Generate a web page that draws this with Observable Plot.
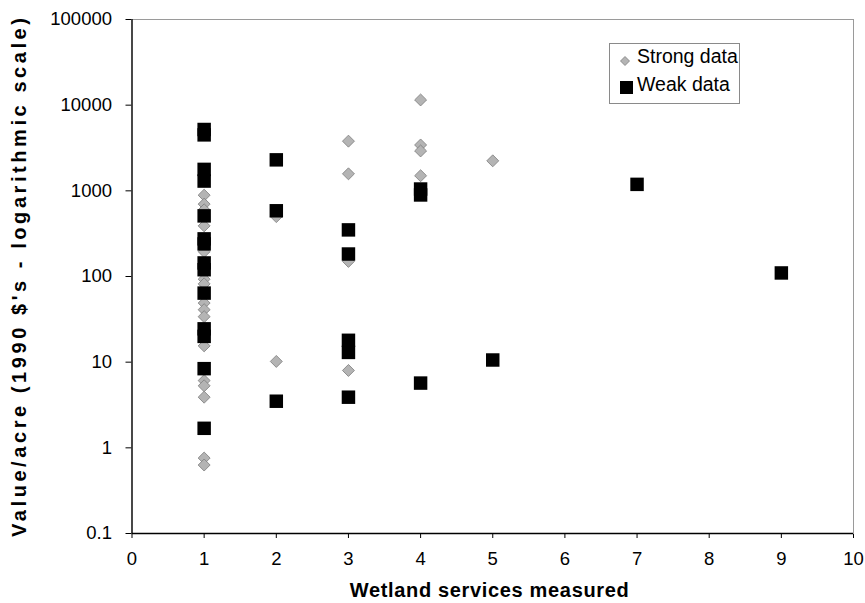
<!DOCTYPE html>
<html>
<head>
<meta charset="utf-8">
<script src="https://cdn.jsdelivr.net/npm/d3@7"></script>
<script src="https://cdn.jsdelivr.net/npm/@observablehq/plot@0.6"></script>
<style>
  body { margin: 0; background: #fff; }
  #wrap { position: relative; width: 865px; height: 603px; font-family: "Liberation Sans", Arial, sans-serif; }
  #legend { position: absolute; left: 609px; top: 43px; width: 129px; height: 59px; border: 1px solid #8a8a8a; background: #fff; font-size: 19.5px; }
  #legend svg { position: absolute; }
  #legend span { position: absolute; white-space: nowrap; line-height: 1; }
</style>
</head>
<body>
<div id="wrap"></div>
<script>
// Strong data (x = wetland services measured, y = value/acre)
const strongX = [1,1,1,1,1,1,1,1,1,1,1,1,1,1,1,1, 2,2, 3,3,3,3, 4,4,4,4, 5];
const strongY = [890,700,600,390,195,93,82,49,41,34,15.5,6.1,5.3,3.9,0.76,0.63, 500,10.2, 3800,1580,150,8, 11500,3430,2920,1500, 2240];
// Weak data
const weakX = [1,1,1,1,1,1,1,1,1,1,1,1,1,1, 2,2,2, 3,3,3,3,3, 4,4,4, 5, 7, 9];
const weakY = [5200,4500,1780,1300,510,275,240,144,120,64,24.5,20,8.4,1.69, 2300,585,3.5, 350,183,18,13,3.9, 1050,895,5.7, 10.6, 1190, 110];
const xTicks = [0,1,2,3,4,5,6,7,8,9,10];
const yTicks = [0.1,1,10,100,1000,10000,100000];
const yTickLabels = ["0.1","1","10","100","1000","10000","100000"];
const xLabel = "Wetland services measured";
const yLabel = "Value/acre (1990 $'s - logarithmic scale)";
const seriesNames = ["Strong data", "Weak data"];

const strong = strongX.map((x, i) => ({x, y: strongY[i]}));
const weak = weakX.map((x, i) => ({x, y: weakY[i]}));

const chart = Plot.plot({
  width: 865,
  height: 603,
  marginLeft: 131.5,
  marginRight: 12,
  marginTop: 19,
  marginBottom: 70,
  style: { fontFamily: "Liberation Sans, Arial, sans-serif", fontSize: "18.5px", color: "#000", background: "#fff" },
  x: { domain: [0, 10], ticks: xTicks, tickSize: 5, tickPadding: 13, label: null },
  y: { type: "log", domain: [0.1, 100000], ticks: yTicks, tickSize: 6, tickPadding: 14,
       tickFormat: d => yTickLabels[yTicks.indexOf(d)] ?? "", label: null },
  marks: [
    Plot.frame({ stroke: "#9a9a9a", strokeWidth: 1 }),
    Plot.ruleX([0], { stroke: "#000", strokeWidth: 1.3 }),
    Plot.ruleY([0.1], { stroke: "#000", strokeWidth: 1.3 }),
    Plot.dot(strong, { x: "x", y: "y", symbol: "diamond2", r: 5.4, fill: "#b4b4b4", stroke: "#7c7c7c", strokeWidth: 0.8 }),
    Plot.dot(weak, { x: "x", y: "y", symbol: "square", r: 7.6, fill: "#000", stroke: "none" }),
    Plot.text([xLabel], { frameAnchor: "bottom", lineAnchor: "middle", dx: -3.5, dy: 57.5, fontWeight: "bold", fontSize: 20, fill: "#000" }),
    Plot.text([yLabel], { frameAnchor: "left", textAnchor: "middle", lineAnchor: "middle", dx: -112, dy: 1, rotate: -90, fontWeight: "bold", fontSize: 20, fill: "#000" })
  ]
});
document.getElementById("wrap").appendChild(chart);

d3.select(chart).selectAll("text").each(function() {
  if (this.textContent === xLabel) { this.setAttribute("textLength", 279); this.setAttribute("lengthAdjust", "spacing"); }
  if (this.textContent === yLabel) { this.setAttribute("textLength", 519); this.setAttribute("lengthAdjust", "spacing"); }
});

const legend = document.createElement("div");
legend.id = "legend";
legend.innerHTML = `
  <svg style="left:9px;top:11px" width="12" height="12"><path d="M6,1.5 L10.5,6 L6,10.5 L1.5,6 Z" fill="#b4b4b4" stroke="#7c7c7c" stroke-width="0.8"/></svg><span style="left:27px;top:3px">${seriesNames[0]}</span>
  <svg style="left:10px;top:37px" width="14" height="14"><rect x="0" y="0" width="13" height="13" fill="#000"/></svg><span style="left:27px;top:31px">${seriesNames[1]}</span>`;
document.getElementById("wrap").appendChild(legend);
</script>
</body>
</html>
